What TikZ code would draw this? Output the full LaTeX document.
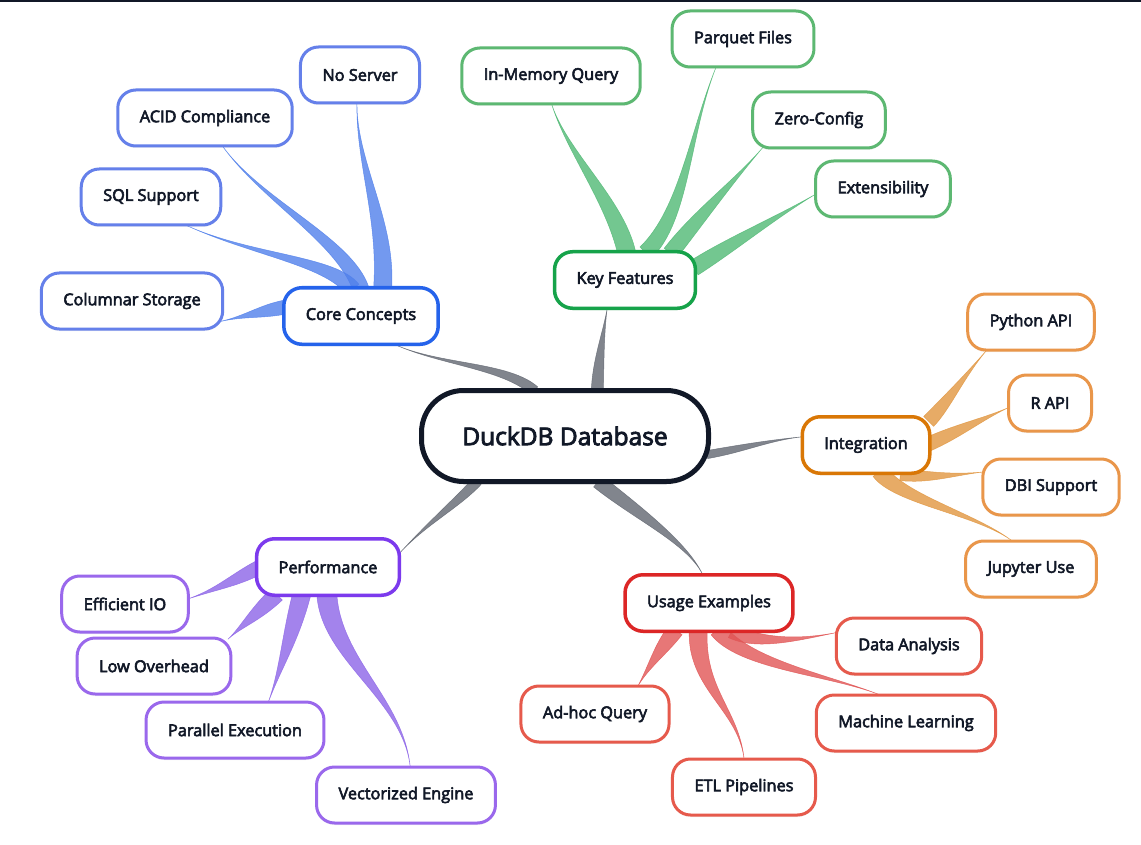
\documentclass[tikz,border=0pt]{standalone}
\usepackage{fontspec}
\setmainfont{Open Sans}
\newfontfamily\labelfont{Open Sans}[FakeBold=3.5]
\usepackage{tikz}
\usetikzlibrary{calc,shadows}
\definecolor{rootc}{HTML}{111827}
\definecolor{trunk}{HTML}{626771}
\definecolor{coreB}{HTML}{2563EB}
\definecolor{coreL}{HTML}{6580EA}
\definecolor{coreT}{HTML}{5180EB}
\definecolor{featB}{HTML}{16A34A}
\definecolor{featL}{HTML}{5DB872}
\definecolor{featT}{HTML}{51B975}
\definecolor{intB}{HTML}{D97706}
\definecolor{intL}{HTML}{E9964A}
\definecolor{intT}{HTML}{E19640}
\definecolor{perfB}{HTML}{7C3AED}
\definecolor{perfL}{HTML}{9A68EC}
\definecolor{perfT}{HTML}{8D65E8}
\definecolor{useB}{HTML}{DC2626}
\definecolor{useL}{HTML}{E65A4C}
\definecolor{useT}{HTML}{E15555}
\pgfdeclarelayer{background}
\pgfsetlayers{background,main}
\tikzset{
  root/.style={draw=rootc, line width=5pt, rounded corners=42pt, fill=white,
    minimum width=287pt, minimum height=91pt, text=rootc,
    font=\labelfont\fontsize{24.5}{28}\selectfont,
    drop shadow={shadow xshift=0pt, shadow yshift=-3pt, opacity=0.12}},
  hub/.style={draw=#1, line width=3.5pt, rounded corners=18pt, fill=white,
    minimum height=56.5pt, inner xsep=22pt, text=rootc,
    font=\labelfont\fontsize{16.3}{19}\selectfont,
    drop shadow={shadow xshift=0pt, shadow yshift=-2pt, opacity=0.10}},
  leaf/.style={hub=#1, line width=3pt, minimum height=56pt},
  stem/.style={fill=#1, draw=#1, line width=0.5pt, opacity=0.8}
}
% tapered link: start, control 1, control 2, end, half width, colour
\newcommand{\twig}[6]{%
  \coordinate (tws) at ($#1!-4pt!#2$);
  \coordinate (twe) at ($#4!-4pt!#3$);
  \path[stem=#6] ($(tws)!#5!90:#2$) .. controls ($#2!#5!-90:(tws)$) and #3 .. (twe)
    .. controls #3 and ($#2!#5!90:(tws)$) .. ($(tws)!#5!-90:#2$) -- cycle;}

\begin{document}
\begin{tikzpicture}[x=1pt,y=-1pt]

  \useasboundingbox (0,0) rectangle (1141,845);

  \node[root] (duck) at (565,436) {DuckDB Database};

  \node[hub=coreB] (core) at (361,316) {Core Concepts};
  \node[hub=featB] (feat) at (625,280) {Key Features};
  \node[hub=intB] (integ) at (866,445) {Integration};
  \node[hub=perfB] (perf) at (328,567) {Performance};
  \node[hub=useB] (usage) at (709,603) {Usage Examples};

  \node[leaf=coreL] (noserver) at (360,75) {No Server};
  \node[leaf=coreL] (acid) at (205,118) {ACID Compliance};
  \node[leaf=coreL] (sql) at (151,197) {SQL Support};
  \node[leaf=coreL] (columnar) at (132,301) {Columnar Storage};

  \node[leaf=featL] (inmem) at (551,76) {In-Memory Query};
  \node[leaf=featL] (parquet) at (743,39) {Parquet Files};
  \node[leaf=featL] (zero) at (819,120) {Zero-Config};
  \node[leaf=featL] (ext) at (883,189) {Extensibility};

  \node[leaf=intL] (python) at (1031,322) {Python API};
  \node[leaf=intL] (rapi) at (1050,403) {R API};
  \node[leaf=intL] (dbi) at (1051,487) {DBI Support};
  \node[leaf=intL] (jupyter) at (1031,569) {Jupyter Use};

  \node[leaf=perfL] (effio) at (125,604) {Efficient IO};
  \node[leaf=perfL] (lowov) at (154,666) {Low Overhead};
  \node[leaf=perfL] (parallel) at (235,730) {Parallel Execution};
  \node[leaf=perfL] (vector) at (406,795) {Vectorized Engine};

  \node[leaf=useL] (analysis) at (909,646) {Data Analysis};
  \node[leaf=useL] (ml) at (906,723) {Machine Learning};
  \node[leaf=useL] (adhoc) at (595,714) {Ad-hoc Query};
  \node[leaf=useL] (etl) at (744,787) {ETL Pipelines};

  \begin{pgfonlayer}{background}
    \fill[white] (0,0) rectangle (1141,845);
    \fill[rootc] (0,0) rectangle (1141,2.5);

    %% root -> hubs
    \twig{(duck.125)}{(505,365)}{(440,365)}{(core.-39)}{5pt}{trunk}
    \twig{(duck.56)}{(598,360)}{(604,330)}{(feat.-121)}{6pt}{trunk}
    \twig{(duck.-7)}{(745,448)}{(770,440)}{(integ.173)}{4pt}{trunk}
    \twig{(duck.-152)}{(455,505)}{(425,525)}{(perf.12)}{5pt}{trunk}
    \twig{(duck.-53)}{(640,515)}{(690,545)}{(usage.103)}{7pt}{trunk}

    %% core concepts
    \twig{(core.54)}{(388,220)}{(355,160)}{(noserver.-96)}{9pt}{coreT}
    \twig{(core.92)}{(345,240)}{(260,200)}{(acid.-58)}{8pt}{coreT}
    \twig{(core.110)}{(330,260)}{(250,255)}{(sql.-38)}{8pt}{coreT}
    \twig{(core.174)}{(260,312)}{(245,316)}{(columnar.-12)}{7pt}{coreT}

    %% key features
    \twig{(feat.88)}{(615,200)}{(565,150)}{(inmem.-88)}{9pt}{featT}
    \twig{(feat.52)}{(685,215)}{(690,130)}{(parquet.-133)}{8pt}{featT}
    \twig{(feat.32)}{(700,215)}{(735,180)}{(zero.-153)}{8pt}{featT}
    \twig{(feat.11)}{(730,245)}{(780,215)}{(ext.-175)}{8pt}{featT}

    %% integration
    \twig{(integ.22)}{(945,405)}{(965,375)}{(python.-147)}{7pt}{intT}
    \twig{(integ.2)}{(960,430)}{(985,418)}{(rapi.-173)}{7pt}{intT}
    \twig{(integ.-38)}{(930,478)}{(955,475)}{(dbi.168)}{6pt}{intT}
    \twig{(integ.-62)}{(900,500)}{(980,515)}{(jupyter.125)}{8pt}{intT}

    %% performance
    \twig{(perf.-178)}{(235,580)}{(215,590)}{(effio.5)}{7pt}{perfT}
    \twig{(perf.-151)}{(255,615)}{(240,628)}{(lowov.21)}{8pt}{perfT}
    \twig{(perf.-132)}{(290,640)}{(280,670)}{(parallel.41)}{9pt}{perfT}
    \twig{(perf.-92)}{(330,660)}{(405,700)}{(vector.82)}{10pt}{perfT}

    %% usage examples
    \twig{(usage.-49)}{(760,645)}{(800,640)}{(analysis.170)}{7pt}{useT}
    \twig{(usage.-70)}{(745,665)}{(830,675)}{(ml.135)}{8pt}{useT}
    \twig{(usage.-140)}{(660,650)}{(648,668)}{(adhoc.34)}{8pt}{useT}
    \twig{(usage.-110)}{(695,690)}{(740,710)}{(etl.90)}{9pt}{useT}
  \end{pgfonlayer}

\end{tikzpicture}
\end{document}
